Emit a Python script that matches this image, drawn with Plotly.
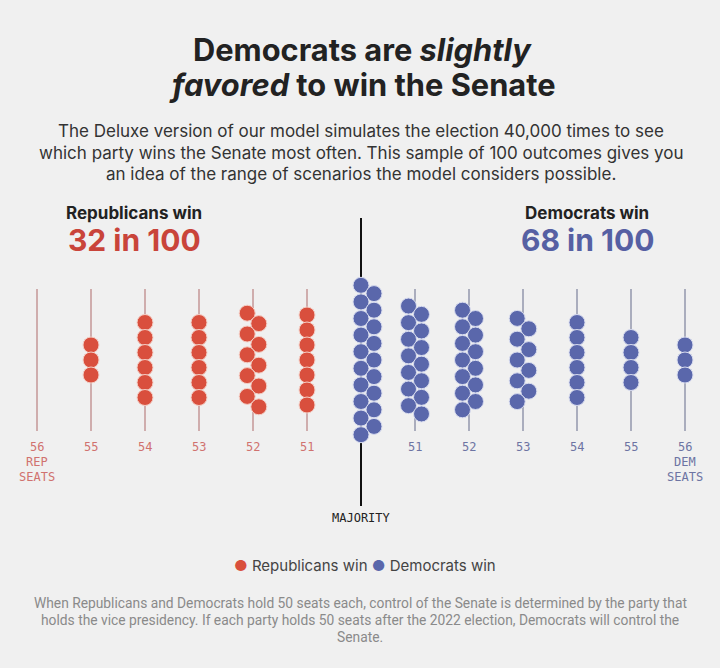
import math
import plotly.graph_objects as go

# ---------------- data ----------------
rep_seats = [56, 55, 54, 53, 52, 51]
rep_counts = [0, 3, 6, 6, 10, 7]
dem_seats = [50, 51, 52, 53, 54, 55, 56]
dem_counts = [19, 14, 13, 9, 6, 4, 3]
rep_total = 32
dem_total = 68

title_l1 = "Democrats are <i>slightly</i>"
title_l2 = "<i>favored</i> to win the Senate"
subtitle = [
    "The Deluxe version of our model simulates the election 40,000 times to see",
    "which party wins the Senate most often. This sample of 100 outcomes gives you",
    "an idea of the range of scenarios the model considers possible.",
]
footnote = [
    "When Republicans and Democrats hold 50 seats each, control of the Senate is determined by the party that",
    "holds the vice presidency. If each party holds 50 seats after the 2022 election, Democrats will control the",
    "Senate.",
]

# ---------------- style ----------------
W, H = 720, 668
BG = "#f0f0f0"
RED = "#d94f3d"
BLUE = "#5a67ab"
RED_TXT = "#c9443a"
BLUE_TXT = "#5660a3"
RED_LBL = "#d0726f"
BLUE_LBL = "#6d74a3"
RED_LINE = "#cfadad"
BLUE_LINE = "#aaadbd"
MONO = "DejaVu Sans Mono"
SANS = "Inter"

COL_W = 54.0       # pixels per column
X0 = 37.0          # pixel of column 0
CY = 360.0         # vertical centre of dot clusters (pixels)
D = 15.0           # dot spacing in single column


def col_index_rep(seat):
    return 56 - seat


def col_index_dem(seat):
    return seat - 50 + 6


def swarm(n):
    """Return list of (dx_px, dy_px) offsets for n dots in a column."""
    pts = []
    if n <= 7:
        for i in range(n):
            pts.append((0.0, (i - (n - 1) / 2) * D))
    else:
        s = 10.4 if n <= 10 else 8.3
        h = 5.8 if n <= 10 else 6.5
        for i in range(n):
            side = -1 if i % 2 == 0 else 1
            pts.append((side * h, (i - (n - 1) / 2) * s))
    return pts


def build(seats, counts, idx_fn, shift_first=False):
    xs, ys = [], []
    for k, (seat, n) in enumerate(zip(seats, counts)):
        ci = idx_fn(seat)
        extra = 0.0
        if shift_first and k == 0:
            extra = 6.5  # cluster at 50 seats sits just right of the majority line
        for dx, dy in swarm(n):
            xs.append(ci + (dx + extra) / COL_W)
            ys.append(CY + dy)
    return xs, ys


rx, ry = build(rep_seats, rep_counts, col_index_rep)
dx_, dy_ = build(dem_seats, dem_counts, col_index_dem, shift_first=True)

fig = go.Figure()

# column guide lines
LINE_TOP, LINE_BOT = 289, 431


def guide(seats, idx_fn, color):
    xs, ys = [], []
    for s in seats:
        if s == 50:
            continue
        c = idx_fn(s)
        xs += [c, c, None]
        ys += [LINE_TOP, LINE_BOT, None]
    fig.add_trace(go.Scatter(x=xs, y=ys, mode="lines",
                             line=dict(color=color, width=2),
                             hoverinfo="skip", showlegend=False))


guide(rep_seats, col_index_rep, RED_LINE)
guide(dem_seats, col_index_dem, BLUE_LINE)

# majority line
maj_x = col_index_dem(50)
fig.add_trace(go.Scatter(x=[maj_x, maj_x], y=[218, 506], mode="lines",
                         line=dict(color="#111111", width=2),
                         hoverinfo="skip", showlegend=False))

# dots
fig.add_trace(go.Scatter(x=rx, y=ry, mode="markers", name="Republicans win",
                         marker=dict(size=16, color=RED,
                                     line=dict(color="#f4cfc6", width=1)),
                         showlegend=False))
fig.add_trace(go.Scatter(x=dx_, y=dy_, mode="markers", name="Democrats win",
                         marker=dict(size=16, color=BLUE,
                                     line=dict(color="#d8dcef", width=1)),
                         showlegend=False))

ann = []


def py(p):
    return 1 - p / H


def px(p):
    return p / W


def text(x, y, t, size, color, family=SANS, bold=False, xanchor="center"):
    if bold:
        t = "<b>" + t + "</b>"
    ann.append(dict(x=px(x), y=py(y), xref="paper", yref="paper", text=t,
                    showarrow=False, xanchor=xanchor, yanchor="middle",
                    font=dict(size=size, color=color, family=family)))


# titles
text(362, 50, title_l1, 30.8, "#222222", bold=True)
text(362, 85, title_l2, 30.8, "#222222", bold=True)
for i, line in enumerate(subtitle):
    text(361, 131 + i * 21.5, line, 17, "#333333")

# headline counts
text(134, 213, "Republicans win", 17, "#222222", bold=True)
text(134, 240, f"{rep_total} in 100", 30, RED_TXT, bold=True)
text(587, 213, "Democrats win", 17, "#222222", bold=True)
text(587, 240, f"{dem_total} in 100", 30, BLUE_TXT, bold=True)

# seat labels
LBL = 12
for s in rep_seats:
    c = col_index_rep(s)
    xpix = X0 + c * COL_W
    text(xpix, 447, str(s), LBL, RED_LBL, family=MONO)
    if s == 56:
        text(xpix, 462, "REP", LBL, RED_LBL, family=MONO)
        text(xpix, 477, "SEATS", LBL, RED_LBL, family=MONO)
for s in dem_seats:
    if s == 50:
        continue
    c = col_index_dem(s)
    xpix = X0 + c * COL_W
    text(xpix, 447, str(s), LBL, BLUE_LBL, family=MONO)
    if s == 56:
        text(xpix, 462, "DEM", LBL, BLUE_LBL, family=MONO)
        text(xpix, 477, "SEATS", LBL, BLUE_LBL, family=MONO)

text(X0 + maj_x * COL_W, 518, "MAJORITY", LBL, "#222222", family=MONO)

# legend
legend_txt = (f"<span style='color:{RED}'>●</span> Republicans win "
              f"<span style='color:{BLUE}'>●</span> Democrats win")
text(365, 565, legend_txt, 15, "#444444")

# footnote
for i, line in enumerate(footnote):
    text(360, 603 + i * 17, line, 13.8, "#8a8a8a", family="Roboto")

fig.update_layout(
    width=W, height=H,
    margin=dict(l=0, r=0, t=0, b=0),
    paper_bgcolor=BG, plot_bgcolor=BG,
    annotations=ann,
    xaxis=dict(range=[-X0 / COL_W, (W - X0) / COL_W], domain=[0, 1],
               visible=False, fixedrange=True),
    yaxis=dict(range=[H, 0], domain=[0, 1], visible=False, fixedrange=True),
    showlegend=False,
)

fig.write_html("out.html")
